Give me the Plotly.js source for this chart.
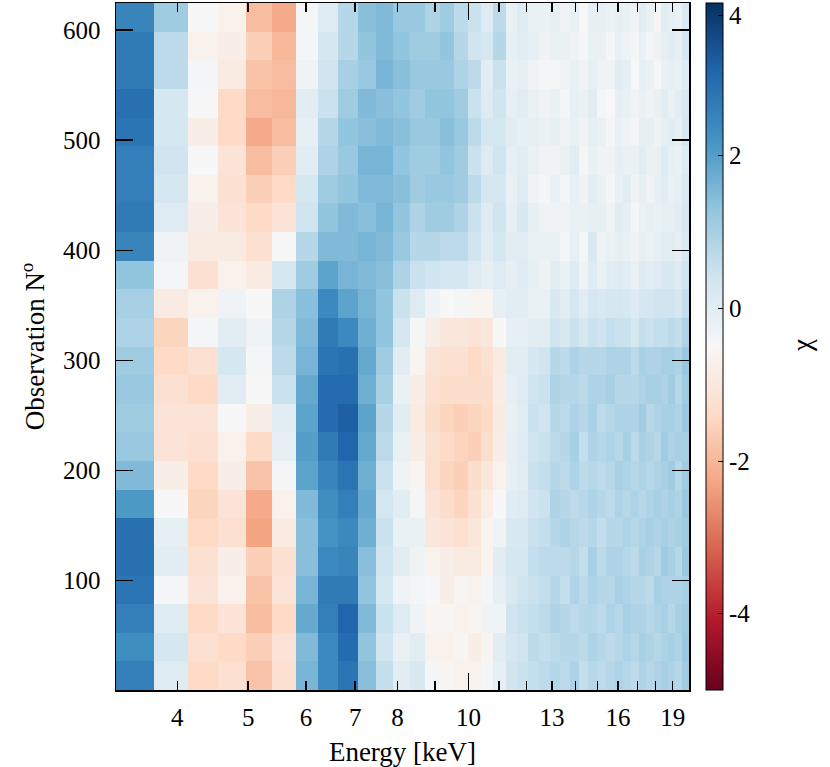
<!DOCTYPE html>
<html>
<head>
<meta charset="utf-8">
<script src="https://cdn.plot.ly/plotly-3.0.1.min.js"></script>
<style>
html,body{margin:0;padding:0;background:#fff;}
#chart{width:830px;height:767px;}
</style>
</head>
<body>
<div id="chart"></div>
<script>
// Energy bin edges [keV] (40 bins)
const energyEdges = [3.300, 3.718, 4.135, 4.553, 4.970, 5.388, 5.805, 6.223, 6.640, 7.058,
  7.475, 7.893, 8.310, 8.728, 9.145, 9.563, 9.980, 10.398, 10.815, 11.233,
  11.650, 12.068, 12.485, 12.903, 13.320, 13.738, 14.155, 14.573, 14.990, 15.408,
  15.825, 16.243, 16.660, 17.078, 17.495, 17.913, 18.330, 18.748, 19.165, 19.583, 20.000];
// Observation block edges (24 blocks of 26 observations)
const obsEdges = [0.5, 26.5, 52.5, 78.5, 104.5, 130.5, 156.5, 182.5, 208.5, 234.5, 260.5, 286.5,
  312.5, 338.5, 364.5, 390.5, 416.5, 442.5, 468.5, 494.5, 520.5, 546.5, 572.5, 598.5, 624.5];

// chi values per energy bin, from the lowest observation block to the highest
const c01 = [2.6,2.3,2.6,2.8,2.9,2.9,2.1,1.5,1.2,1.1,1.2,1.1,0.9,1.0,1.3,2.5,2.7,2.6,2.6,2.8,2.9,2.7,2.7,2.5];
const c02 = [0.1,0.3,0.1,-0.4,0.0,-0.1,-0.5,-0.8,-1.1,-1.1,-1.2,-1.4,-1.5,-0.9,-0.4,-0.3,0.1,0.3,0.4,0.3,0.3,0.7,0.7,1.1];
const c03 = [-1.4,-1.2,-1.4,-1.1,-1.2,-1.4,-1.5,-1.4,-1.2,-1.1,-1.4,-1.2,-0.4,-0.7,-1.2,-0.9,-0.8,-0.7,-0.5,-0.8,-0.5,-0.4,-0.7,-0.5];
const c04 = [-1.2,-1.4,-1.1,-0.7,-0.8,-1.2,-1.1,-0.8,-0.7,-0.5,0.0,0.3,0.0,-0.3,-0.7,-0.9,-1.1,-1.2,-1.1,-1.4,-1.4,-0.9,-0.8,-0.7];
const c05 = [-1.8,-1.6,-1.9,-1.8,-1.6,-2.3,-2.2,-1.8,-1.4,-0.8,-0.5,-0.4,-0.3,-0.5,-0.9,-1.2,-1.4,-1.6,-1.9,-2.2,-1.9,-1.8,-1.6,-1.9];
const c06 = [-1.2,-1.1,-1.4,-1.1,-1.2,-0.9,-0.7,-0.4,-0.1,0.0,0.5,0.7,0.8,0.9,0.3,-0.5,-1.1,-1.4,-1.6,-1.9,-2.0,-1.9,-2.0,-2.2];
const c07 = [1.6,1.5,1.8,1.6,1.4,1.4,1.5,1.9,2.0,1.9,1.8,1.6,1.5,1.4,1.1,0.8,0.4,0.3,0.0,-0.1,0.0,-0.3,-0.4,-0.4];
const c08 = [2.4,2.4,2.6,2.7,2.4,2.2,2.3,2.5,2.7,3.0,3.0,2.8,2.7,2.4,1.9,1.5,1.3,1.1,0.9,0.8,0.5,0.4,0.3,0.1];
const c09 = [2.8,3.0,3.1,2.7,2.5,2.4,2.6,2.8,3.1,3.2,3.0,2.9,2.4,1.9,1.6,1.5,1.5,1.3,1.2,1.3,1.1,1.0,0.8,0.8];
const c10 = [1.4,1.3,1.5,1.3,1.4,1.7,1.8,1.7,1.8,1.9,1.7,1.8,1.7,1.6,1.5,1.6,1.4,1.5,1.6,1.4,1.5,1.2,1.3,1.4];
const c11 = [0.6,0.4,0.5,0.3,0.4,0.5,0.3,0.5,0.7,0.8,1.0,1.1,1.3,1.3,1.4,1.5,1.6,1.5,1.6,1.5,1.4,1.6,1.5,1.5];
const c12 = [0.0,-0.2,0.1,-0.3,0.0,-0.2,0.0,-0.3,-0.2,0.0,-0.2,0.0,0.3,0.5,0.9,1.2,1.3,1.4,1.3,1.4,1.3,1.4,1.3,1.2];
const c13 = [0.2,0.0,-0.3,-0.4,-0.3,-0.2,-0.4,-0.6,-0.8,-0.9,-0.8,-0.6,-0.4,0.1,0.5,0.8,0.9,1.1,1.1,1.2,1.1,1.2,1.1,1.2];
const c14 = [-0.4,-0.7,-0.6,-0.5,-0.7,-1.0,-1.1,-1.2,-1.2,-1.3,-1.2,-1.1,-0.8,-0.3,0.4,0.8,1.1,1.2,1.1,1.2,1.3,1.2,1.1,0.9];
const c15 = [-0.6,-0.7,-0.6,-0.8,-0.8,-1.1,-1.3,-1.5,-1.4,-1.5,-1.3,-1.2,-1.0,-0.5,0.3,0.7,1.1,1.2,1.3,1.4,1.3,1.2,1.3,1.1];
const c16 = [-0.7,-0.6,-0.7,-0.6,-0.9,-1.2,-1.5,-1.6,-1.5,-1.6,-1.3,-1.2,-1.0,-0.4,0.3,0.7,0.9,1.1,1.1,1.2,1.1,0.9,0.8,0.7];
const c17 = [-0.7,-0.8,-0.6,-0.7,-0.9,-1.0,-1.2,-1.3,-1.6,-1.5,-1.3,-1.4,-1.1,-0.6,0.1,0.4,0.5,0.7,0.5,0.7,0.5,0.7,0.4,0.5];
const c18 = [-0.4,-0.6,-0.3,-0.4,-0.6,-0.6,-0.8,-1.0,-1.3,-1.4,-1.3,-1.2,-1.0,-0.6,-0.1,0.0,0.1,0.3,0.1,0.3,0.1,0.0,0.3,0.1];
const c19 = [-0.1,0.0,-0.3,-0.1,0.0,-0.3,-0.5,-0.7,-0.8,-0.9,-0.8,-0.9,-0.5,-0.1,0.1,0.3,0.4,0.3,0.4,0.3,0.4,0.5,0.8,0.7];
const c20 = [0.4,0.3,0.4,0.2,0.3,0.2,0.0,-0.1,-0.1,-0.2,-0.1,0.0,-0.1,0.0,-0.1,0.0,-0.1,-0.2,-0.1,0.0,-0.1,-0.2,-0.1,-0.2];
const c21 = [0.5,0.4,0.5,0.4,0.3,0.2,0.1,0.0,0.1,0.0,0.1,0.0,-0.1,0.0,0.1,0.0,0.2,0.1,0.0,-0.1,0.0,-0.1,0.0,0.1];
const c22 = [0.6,0.7,0.6,0.5,0.6,0.5,0.4,0.5,0.4,0.5,0.4,0.3,0.0,-0.2,-0.1,-0.2,-0.1,-0.3,-0.2,-0.1,-0.2,-0.3,-0.1,-0.2];
const c23 = [0.7,0.6,0.7,0.6,0.7,0.6,0.5,0.6,0.5,0.4,0.5,0.4,0.0,-0.2,-0.3,-0.2,-0.3,-0.4,-0.3,-0.2,-0.3,-0.4,-0.3,-0.2];
const c24 = [0.8,0.7,0.9,0.8,0.7,0.8,0.9,0.8,0.7,0.8,0.9,0.8,0.4,0.2,0.0,-0.2,-0.3,-0.2,-0.3,-0.1,-0.2,-0.4,-0.2,-0.1];
const c25 = [0.7,0.8,0.8,0.6,0.7,0.9,0.8,0.7,0.8,0.7,0.8,0.7,0.2,0.0,-0.2,-0.4,-0.3,-0.4,-0.2,-0.3,-0.4,-0.3,-0.2,-0.3];
const c26 = [0.9,0.8,0.7,0.9,0.8,0.8,0.7,0.9,1.0,0.9,0.8,0.9,0.5,0.3,0.1,-0.1,-0.2,-0.1,0.0,-0.2,-0.1,-0.2,-0.3,-0.2];
const c27 = [0.6,0.7,0.8,0.7,0.6,0.7,0.8,0.7,0.6,0.8,0.7,0.8,0.3,0.0,-0.3,-0.4,-0.2,-0.3,-0.4,-0.3,-0.2,-0.3,-0.4,-0.5];
const c28 = [0.8,0.9,0.8,0.9,1.0,0.8,0.9,0.8,0.9,1.0,0.9,0.8,0.5,0.3,0.1,0.2,-0.1,0.0,-0.2,-0.1,0.0,-0.1,-0.2,-0.1];
const c29 = [0.7,0.8,0.7,0.8,0.7,0.6,0.8,0.7,0.8,0.7,0.9,0.8,0.4,0.2,-0.2,-0.3,-0.1,-0.2,-0.3,-0.2,-0.4,-0.3,-0.2,-0.1];
const c30 = [0.8,0.7,0.9,0.8,0.9,0.8,0.7,0.8,0.9,0.8,1.0,0.9,0.6,0.3,0.0,-0.2,-0.3,-0.4,-0.3,-0.4,-0.5,-0.3,-0.4,-0.2];
const c31 = [0.9,0.8,0.8,1.0,0.9,0.8,0.9,1.0,0.8,0.9,0.8,0.9,0.5,0.3,0.1,-0.1,0.0,-0.2,-0.1,-0.2,-0.1,0.0,-0.2,-0.1];
const c32 = [0.8,0.9,1.0,0.9,0.8,0.9,0.8,0.9,1.0,0.9,0.8,0.9,0.5,0.2,0.0,-0.2,-0.1,0.0,-0.2,-0.3,-0.2,-0.1,-0.3,-0.2];
const c33 = [0.7,0.8,0.9,0.8,0.7,0.8,0.9,0.8,0.7,0.9,0.8,0.7,0.3,0.1,-0.2,-0.3,-0.4,-0.3,-0.2,-0.4,-0.3,-0.5,-0.4,-0.3];
const c34 = [0.9,1.0,0.9,0.8,1.0,0.9,0.8,0.9,1.0,1.1,0.9,1.0,0.6,0.3,0.1,-0.1,-0.2,-0.1,0.0,-0.1,-0.2,-0.1,-0.2,0.0];
const c35 = [0.8,0.9,0.8,0.7,0.9,1.0,0.9,0.8,0.9,0.8,1.0,0.9,0.5,0.3,0.0,-0.2,-0.1,-0.3,-0.2,-0.1,-0.3,-0.2,-0.4,-0.2];
const c36 = [0.9,0.8,0.9,1.0,0.8,0.9,1.0,0.9,0.8,0.9,1.0,0.9,0.6,0.4,0.1,-0.1,-0.2,-0.1,-0.2,-0.3,-0.2,-0.4,-0.3,-0.4];
const c37 = [1.0,0.9,1.0,0.9,1.1,1.0,0.9,1.0,1.1,1.0,0.9,1.0,0.6,0.4,0.2,0.0,-0.1,0.0,0.1,-0.1,0.0,-0.2,-0.1,0.0];
const c38 = [0.9,1.0,0.8,0.9,1.0,0.9,1.0,1.1,0.9,1.0,1.1,1.0,0.7,0.4,0.2,0.0,-0.1,-0.2,-0.1,0.0,-0.2,-0.1,0.0,-0.1];
const c39 = [0.8,0.9,1.0,0.9,0.8,1.0,0.9,0.8,1.0,0.9,0.8,0.9,0.6,0.3,0.1,-0.1,0.0,-0.1,-0.2,-0.1,0.0,-0.2,-0.1,-0.2];
const c40 = [1.1,1.2,1.1,1.0,1.2,1.1,1.2,1.1,1.0,1.2,1.1,1.2,0.9,0.6,0.4,0.2,0.3,0.2,0.1,0.3,0.2,0.1,0.3,0.2];

const xTickVals = [4,5,6,7,8,10,13,16,19];
const xTickText = ['4','5','6','7','8','10','13','16','19'];
const xMinorVals = [9,11,12,14,15,17,18];
const xMajorVals = [10];
const yTickVals = [100,200,300,400,500,600];
const cbTickVals = [-4,-2,0,2,3.84];
const cbTickText = ['-4','-2','0','2','4'];

const columns = [c01,c02,c03,c04,c05,c06,c07,c08,c09,c10,c11,c12,c13,c14,c15,c16,c17,c18,c19,c20,
  c21,c22,c23,c24,c25,c26,c27,c28,c29,c30,c31,c32,c33,c34,c35,c36,c37,c38,c39,c40];
const z = [];
for (let k = 0; k < obsEdges.length - 1; k++) {
  z.push(columns.map(col => col[k]));
}

const rdbu = [
  [0.0,'#67001f'],[0.1,'#b2182b'],[0.2,'#d6604d'],[0.3,'#f4a582'],[0.4,'#fddbc7'],
  [0.5,'#f7f7f7'],[0.6,'#d1e5f0'],[0.7,'#92c5de'],[0.8,'#4393c3'],[0.9,'#2166ac'],[1.0,'#053061']
];

const FONT = 'Liberation Serif, Times New Roman, serif';
const xRange = [Math.log10(energyEdges[0]), Math.log10(energyEdges[energyEdges.length - 1])];

const trace = {
  type: 'heatmap',
  x: energyEdges,
  y: obsEdges,
  z: z,
  zmin: -5, zmax: 4,
  colorscale: rdbu,
  zsmooth: false,
  colorbar: {
    x: 1.0297, xanchor: 'left', xpad: 0,
    y: 0.5, yanchor: 'middle', len: 1, lenmode: 'fraction', ypad: 0,
    thickness: 17, thicknessmode: 'pixels',
    outlinecolor: '#000', outlinewidth: 1,
    tickmode: 'array', tickvals: cbTickVals, ticktext: cbTickText,
    ticks: 'inside', ticklen: 5, tickcolor: '#000',
    ticklabeloverflow: 'allow',
    tickfont: {family: FONT, size: 25, color: '#000'}
  }
};

const layout = {
  width: 830, height: 767,
  margin: {l: 116, r: 141, t: 3, b: 77, pad: 0},
  paper_bgcolor: '#fff', plot_bgcolor: '#fff',
  font: {family: FONT, color: '#000'},
  xaxis: {
    type: 'log',
    range: xRange,
    tickmode: 'array', tickvals: xTickVals, ticktext: xTickText,
    ticks: 'inside', ticklen: 9, tickwidth: 1.3, tickcolor: '#000',
    minor: {tickmode: 'array', tickvals: xMinorVals, ticks: 'inside', ticklen: 9, tickwidth: 1.3, tickcolor: '#000', showgrid: false},
    showline: true, linecolor: '#000', linewidth: 1.5, mirror: 'ticks',
    showgrid: false, zeroline: false,
    tickfont: {family: FONT, size: 25, color: '#000'},
    ticklabelstandoff: 4,
    title: {text: 'Energy [keV]', font: {family: FONT, size: 27, color: '#000'}, standoff: 12},
    automargin: false
  },
  xaxis2: {
    type: 'log', range: xRange, overlaying: 'x', anchor: 'y', side: 'bottom',
    tickmode: 'array', tickvals: xMajorVals,
    ticks: 'inside', ticklen: 17, tickwidth: 1.3, tickcolor: '#000',
    showticklabels: false, showline: false, mirror: 'ticks', showgrid: false, zeroline: false
  },
  yaxis: {
    range: [0.5, 624.5],
    tickmode: 'array', tickvals: yTickVals,
    ticks: 'inside', ticklen: 17, tickwidth: 1.3, tickcolor: '#000',
    showline: true, linecolor: '#000', linewidth: 1.5, mirror: 'ticks',
    showgrid: false, zeroline: false,
    tickfont: {family: FONT, size: 25, color: '#000'},
    ticklabelstandoff: 9,
    title: {text: 'Observation N<sup>o</sup>', font: {family: FONT, size: 27, color: '#000'}, standoff: 10},
    automargin: false
  },
  annotations: [{
    text: 'χ', xref: 'paper', yref: 'paper', x: 1.197, y: 0.502,
    xanchor: 'center', yanchor: 'middle', textangle: -90, showarrow: false,
    font: {family: FONT, size: 27, color: '#000'}
  }],
  showlegend: false
};

const tickHolder = {type: 'scatter', x: [10], y: [300], xaxis: 'x2', yaxis: 'y',
  mode: 'markers', marker: {opacity: 0, size: 1}, hoverinfo: 'skip', showlegend: false};

Plotly.newPlot('chart', [trace, tickHolder], layout, {displayModeBar: false, staticPlot: true});
</script>
</body>
</html>
